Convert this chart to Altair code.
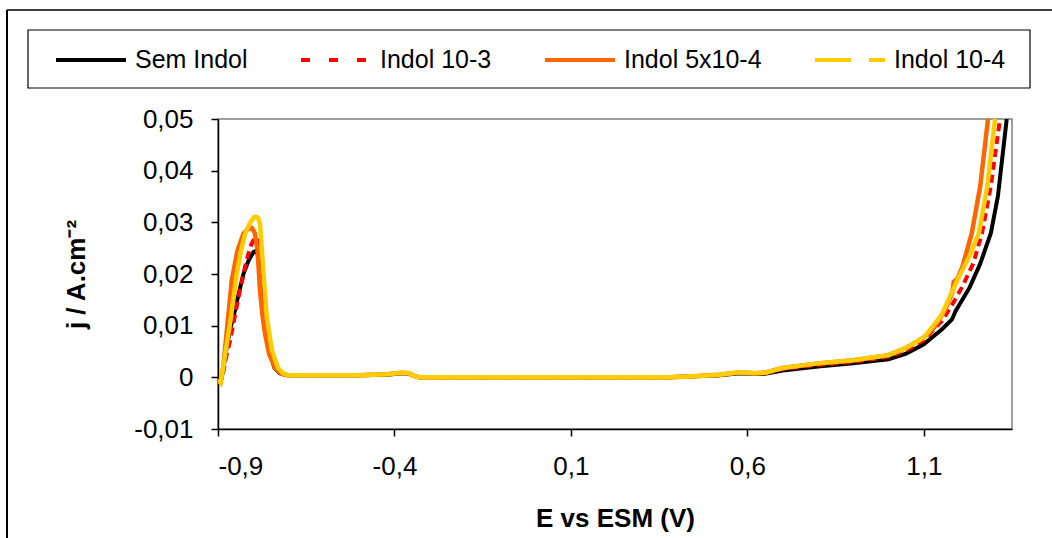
import altair as alt
import pandas as pd

# ---------------- data ----------------
series_names = ["Sem Indol", "Indol 10-3", "Indol 5x10-4", "Indol 10-4"]
series_colors = ["#000000", "#FF0000", "#FF6600", "#FFCC00"]
legend_dashes = [[1, 0], [9, 19], [1, 0], [36, 18]]

x_ticks = [-0.9, -0.4, 0.1, 0.6, 1.1]
y_ticks = [-0.01, 0.0, 0.01, 0.02, 0.03, 0.04, 0.05]

mid_x = [-0.6, -0.5, -0.42, -0.38, -0.36, -0.345, -0.33, -0.2, 0.0, 0.2, 0.38,
         0.45, 0.52, 0.58, 0.62, 0.65, 0.7, 0.8, 0.9]

sem_x = ([-0.9, -0.893, -0.885, -0.875, -0.865, -0.856, -0.842, -0.828, -0.814, -0.80,
          -0.792, -0.785, -0.776, -0.769, -0.762, -0.752, -0.74, -0.725, -0.71, -0.69]
         + mid_x
         + [1.0, 1.05, 1.1, 1.15, 1.18, 1.19, 1.23, 1.26, 1.29, 1.31, 1.335])
sem_y = ([-0.0005, -0.001, 0.0015, 0.006, 0.0095, 0.0117, 0.016, 0.020, 0.0225, 0.0242,
          0.0245, 0.0233, 0.0168, 0.0125, 0.0085, 0.0045, 0.0018, 0.0008, 0.0005, 0.0004]
         + [0.0004, 0.0004, 0.0005, 0.0008, 0.0007, 0.0003, 0.0, 0.0, 0.0, 0.0, 0.0,
            0.0002, 0.0004, 0.0008, 0.0007, 0.0007, 0.0013, 0.0021, 0.0027]
         + [0.0035, 0.0046, 0.0064, 0.0092, 0.0112, 0.0128, 0.0174, 0.022, 0.0279, 0.035, 0.05])

i103_x = ([-0.9, -0.893, -0.885, -0.875, -0.866, -0.852, -0.838, -0.823, -0.809, -0.80,
           -0.795, -0.788, -0.781, -0.771, -0.764, -0.757, -0.745, -0.73, -0.715, -0.70]
          + mid_x
          + [1.0, 1.05, 1.1, 1.15, 1.18, 1.208, 1.24, 1.265, 1.29, 1.316])
i103_y = ([-0.0005, -0.001, 0.001, 0.0045, 0.007, 0.012, 0.0168, 0.0215, 0.0252, 0.0265,
           0.0271, 0.0265, 0.0246, 0.0168, 0.011, 0.0072, 0.0035, 0.0012, 0.0006, 0.0004]
          + [0.0004, 0.0004, 0.0006, 0.0009, 0.0008, 0.0003, 0.0, 0.0, 0.0, 0.0, 0.0,
             0.0002, 0.0004, 0.0009, 0.0007, 0.0008, 0.0016, 0.0024, 0.003]
          + [0.004, 0.0052, 0.0072, 0.0108, 0.014, 0.0174, 0.022, 0.0279, 0.037, 0.05])

i5104_x = ([-0.9, -0.893, -0.885, -0.875, -0.861, -0.845, -0.828, -0.815, -0.804, -0.796,
            -0.788, -0.781, -0.774, -0.767, -0.755, -0.738, -0.72, -0.705, -0.69]
           + mid_x
           + [1.0, 1.05, 1.1, 1.13, 1.16, 1.18, 1.185, 1.195, 1.21, 1.236, 1.26, 1.282])
i5104_y = ([-0.0005, -0.001, 0.002, 0.009, 0.0188, 0.0245, 0.0278, 0.0287, 0.0289, 0.028,
            0.0246, 0.0168, 0.012, 0.0085, 0.0045, 0.0018, 0.0007, 0.0004, 0.0004]
           + [0.0004, 0.0004, 0.0006, 0.0009, 0.0008, 0.0003, 0.0, 0.0, 0.0, 0.0, 0.0,
              0.0002, 0.0005, 0.001, 0.0008, 0.0009, 0.0018, 0.0027, 0.0033]
           + [0.0043, 0.0057, 0.0077, 0.0097, 0.013, 0.0162, 0.0185, 0.019, 0.0215, 0.0279, 0.037, 0.05])

i104_x = ([-0.9, -0.893, -0.885, -0.875, -0.866, -0.847, -0.835, -0.823, -0.81, -0.798,
           -0.792, -0.786, -0.781, -0.776, -0.771, -0.762, -0.747, -0.73, -0.714, -0.70]
          + mid_x
          + [1.0, 1.05, 1.1, 1.15, 1.2, 1.23, 1.256, 1.28, 1.302])
i104_y = ([-0.0005, -0.001, 0.002, 0.0065, 0.0104, 0.020, 0.0245, 0.0278, 0.0298, 0.031,
           0.0311, 0.0308, 0.0297, 0.025, 0.020, 0.0117, 0.0052, 0.0018, 0.0007, 0.0004]
          + [0.0004, 0.0004, 0.0006, 0.0009, 0.0008, 0.0003, 0.0, 0.0, 0.0, 0.0, 0.0,
             0.0002, 0.0005, 0.001, 0.0008, 0.0009, 0.0018, 0.0027, 0.0033]
          + [0.0043, 0.0057, 0.0077, 0.012, 0.0195, 0.0235, 0.0279, 0.037, 0.05])

all_x = [sem_x, i103_x, i5104_x, i104_x]
all_y = [sem_y, i103_y, i5104_y, i104_y]

rows = []
for name, xs, ys in zip(series_names, all_x, all_y):
    for k, (xv, yv) in enumerate(zip(xs, ys)):
        rows.append({"series": name, "E": xv, "j": yv, "k": k})
df = pd.DataFrame(rows)

legend_df = pd.DataFrame({"series": series_names, "E": [0.1] * 4, "j": [0.02] * 4})

FONT = "Liberation Sans"
W, H = 794, 310

x_scale = alt.Scale(domain=[-0.9, 1.35], nice=False, zero=False)
y_scale = alt.Scale(domain=[-0.01, 0.05], nice=False, zero=False)
color_scale = alt.Scale(domain=series_names, range=series_colors)

x_enc = alt.X("E:Q", scale=x_scale,
              axis=alt.Axis(values=x_ticks, title="E vs ESM (V)",
                            labelExpr="replace(toString(datum.value), '.', ',')",
                            titleY=89, titleBaseline="middle"))
y_enc = alt.Y("j:Q", scale=y_scale,
              axis=alt.Axis(values=y_ticks, title="j / A.cm\u207b\u00b2",
                            labelExpr="replace(toString(datum.value), '.', ',')",
                            titleX=-142, titleBaseline="middle"))

legend_spec = alt.Legend(title=None, orient="none", legendX=-164, legendY=-96,
                         direction="horizontal", columns=4,
                         symbolType="stroke", symbolSize=4900,
                         symbolStrokeWidth=4, labelOffset=7,
                         columnPadding=45, padding=0,
                         labelFont=FONT, labelFontSize=25,
                         labelColor="black", labelLimit=300)

# legend carrier: one point per series draws no visible line, only feeds the legend
legend_layer = alt.Chart(legend_df).mark_line(strokeWidth=4).encode(
    x=x_enc, y=y_enc,
    color=alt.Color("series:N", scale=color_scale, legend=legend_spec),
    strokeDash=alt.StrokeDash("series:N",
                              scale=alt.Scale(domain=series_names, range=legend_dashes),
                              legend=legend_spec),
)

line_styles = {
    "Sem Indol": dict(strokeWidth=4),
    "Indol 10-3": dict(strokeWidth=4, strokeDash=[8, 5]),
    "Indol 5x10-4": dict(strokeWidth=4.5),
    "Indol 10-4": dict(strokeWidth=4.5),
}

layers = []
for name in series_names:
    layers.append(
        alt.Chart(df).transform_filter(alt.datum.series == name)
        .mark_line(clip=True, **line_styles[name])
        .encode(x=x_enc, y=y_enc,
                color=alt.Color("series:N", scale=color_scale),
                order="k:Q")
    )

# decorative frames (outer chart border and legend box)
frame_left = alt.Chart(legend_df.head(1)).mark_rule(color="black", strokeWidth=2).encode(
    x=alt.value(-211), y=alt.value(-109), y2=alt.value(430))
frame_top = alt.Chart(legend_df.head(1)).mark_rule(color="black", strokeWidth=1.5).encode(
    x=alt.value(-211), x2=alt.value(840), y=alt.value(-109))
legend_box = alt.Chart(legend_df.head(1)).mark_rect(fill=None, stroke="black", strokeWidth=1.2).encode(
    x=alt.value(-190), x2=alt.value(812), y=alt.value(-89), y2=alt.value(-31))

chart = alt.layer(legend_layer, frame_left, frame_top, legend_box, *layers).properties(
    width=W, height=H,
    autosize=alt.AutoSizeParams(type="none"),
    padding={"left": 218, "top": 119, "right": 40, "bottom": 109},
    background="white",
).configure_view(
    stroke="#808080", strokeWidth=1.5
).configure_axis(
    grid=False, domainColor="black", domainWidth=1.5, tickColor="black", tickWidth=1.5,
    tickSize=7, labelFont=FONT, labelFontSize=26, labelColor="black",
    titleFont=FONT, titleFontSize=26, titleFontWeight="bold", titleColor="black",
).configure_axisX(
    labelPadding=17
).configure_axisY(
    labelPadding=18
)

chart.save("out.html", embed_options={"renderer": "svg", "actions": False})
